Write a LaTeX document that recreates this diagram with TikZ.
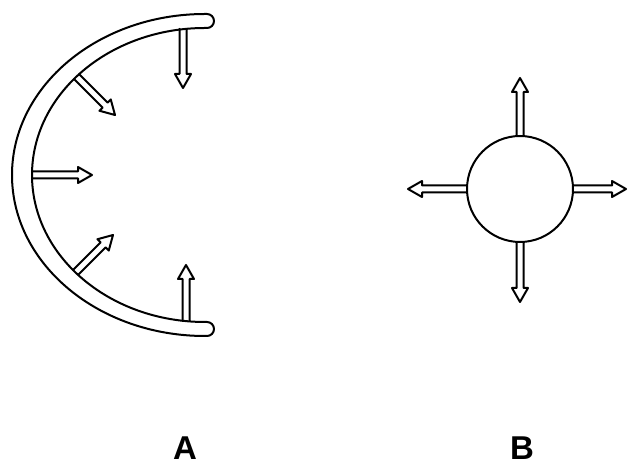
\documentclass[tikz,border=0pt]{standalone}
\usepackage{fontspec}
\setsansfont{Liberation Sans}
\usetikzlibrary{calc}
\tikzset{
  ink/.style={line width=2pt, line join=round, line cap=round},
  hollow/.style={ink, to path={
    ($(\tikztostart)!3.5pt!90:(\tikztotarget)$)
    -- ($(\tikztotarget)!14pt!(\tikztostart)!3.5pt!90:(\tikztotarget)$)
    -- ($(\tikztotarget)!14pt!(\tikztostart)!8pt!90:(\tikztotarget)$)
    -- (\tikztotarget)
    -- ($(\tikztotarget)!14pt!(\tikztostart)!8pt!-90:(\tikztotarget)$)
    -- ($(\tikztotarget)!14pt!(\tikztostart)!3.5pt!-90:(\tikztotarget)$)
    -- ($(\tikztostart)!3.5pt!-90:(\tikztotarget)$)
  }},
  lettertext/.style={font=\sffamily\bfseries\fontsize{33}{33}\selectfont, inner sep=0pt},
  ball/.style={ink, draw, circle, minimum size=106pt, inner sep=0pt}
}
\begin{document}
\begin{tikzpicture}[x=1pt, y=1pt]
  \useasboundingbox (0,0) rectangle (628,465);
  % half ring A
  \draw[ink, fill=white] (207,451) -- (205,451)
    arc[start angle=90, end angle=270, x radius=193, y radius=161]
    -- (207,129) arc[start angle=-90, end angle=90, radius=7]
    -- (205,143)
    arc[start angle=270, end angle=90, x radius=173, y radius=147]
    -- (207,437) arc[start angle=-90, end angle=90, radius=7] -- cycle;
  % arrow anchors of A
  \coordinate (a1s) at (183,436);
  \coordinate (a1t) at (183,377);
  \coordinate (a2s) at (76.5,388.5);
  \coordinate (a2t) at (115,350);
  \coordinate (a3s) at (32,290);
  \coordinate (a3t) at (92,290);
  \coordinate (a4s) at (75.5,192.5);
  \coordinate (a4t) at (113,230);
  \coordinate (a5s) at (186,144);
  \coordinate (a5t) at (186,200);
  \draw[hollow] (a1s) to (a1t);
  \draw[hollow] (a2s) to (a2t);
  \draw[hollow] (a3s) to (a3t);
  \draw[hollow] (a4s) to (a4t);
  \draw[hollow] (a5s) to (a5t);
  % sphere B
  \node[ball] (b) at (520,276) {};
  \coordinate (bup) at (520,387);
  \coordinate (bdown) at (520,163);
  \coordinate (bleft) at (408,276);
  \coordinate (bright) at (626,276);
  \draw[hollow] (b.north) to (bup);
  \draw[hollow] (b.south) to (bdown);
  \draw[hollow] (b.west) to (bleft);
  \draw[hollow] (b.east) to (bright);
  % labels
  \node[lettertext] (la) at (185,17) {A};
  \node[lettertext] (lb) at (522,17) {B};
\end{tikzpicture}
\end{document}
